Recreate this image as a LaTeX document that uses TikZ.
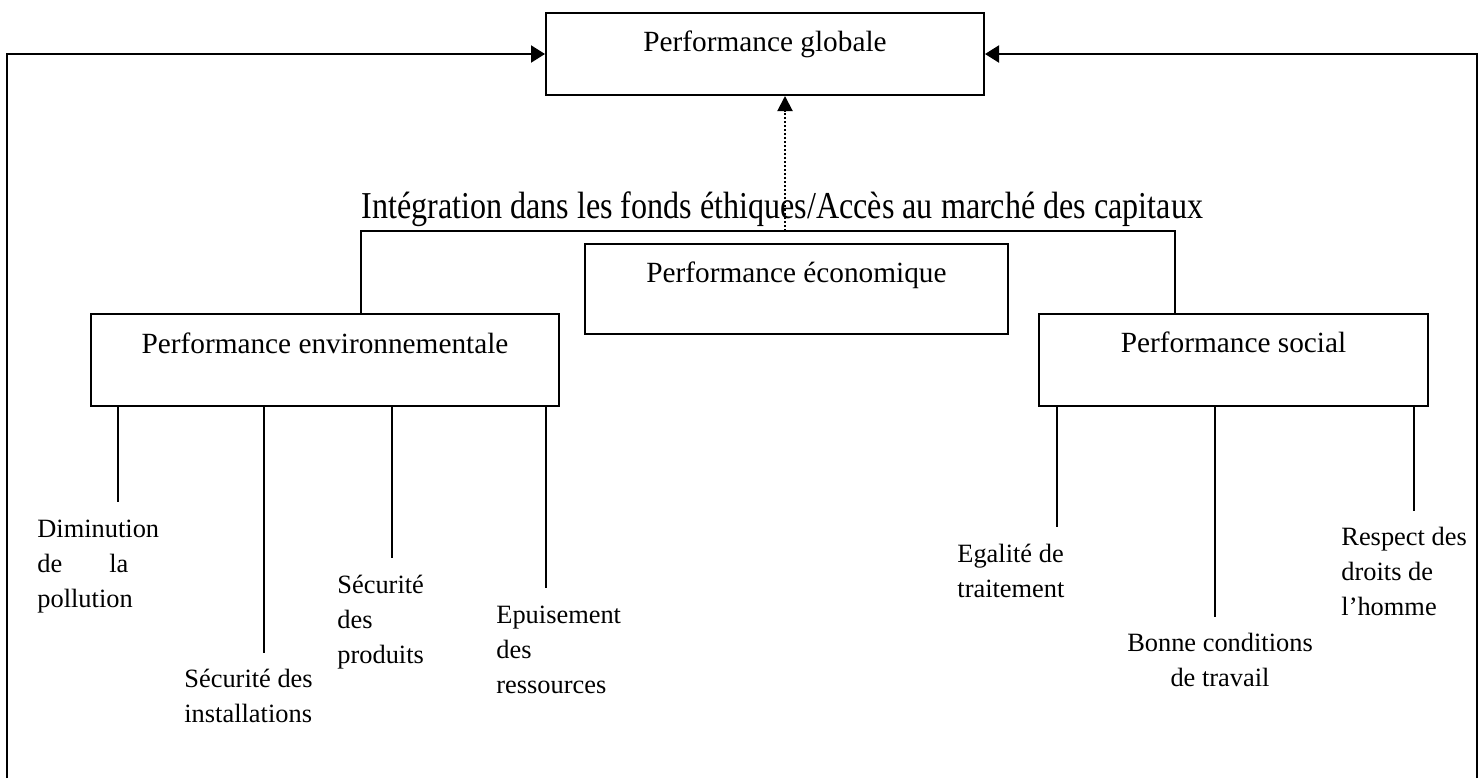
\documentclass[tikz,border=0pt]{standalone}
\usepackage{fontspec}
\usepackage{graphicx}
\setmainfont{Liberation Serif}
\usetikzlibrary{arrows.meta}

% stacked lines, first baseline = node baseline
\newcommand\leafleft[1]{\vtop{\baselineskip=17.5pt\lineskiplimit=-20pt\halign{##\hfil\cr#1\crcr}}}
\newcommand\leafmid[1]{\vtop{\baselineskip=17.5pt\lineskiplimit=-20pt\halign{\hfil##\hfil\cr#1\crcr}}}

\begin{document}
\begin{tikzpicture}[x=0.5pt,y=-0.5pt,
  pbox/.style={draw, line width=1pt, inner sep=0pt, anchor=north west,
    font=\fontsize{14.65pt}{17pt}\selectfont},
  leaf/.style={inner sep=0pt, anchor=base west,
    font=\fontsize{13.2pt}{17.5pt}\selectfont},
  link/.style={line width=1pt},
  feed/.style={line width=1pt, -{Triangle[length=7pt,width=8.5pt]}},
  dotarrow/.style={line width=1pt, dash pattern=on 1pt off 1pt,
    -{Triangle[length=7.5pt,width=7.5pt]}}]

\useasboundingbox (0,0) rectangle (1483,778);

% the four performance boxes
\node[pbox, minimum width=219pt, text height=19pt, text depth=22pt]
  (glob) at (545,12) {Performance globale};
\node[pbox, minimum width=211.5pt, text height=19pt, text depth=26pt]
  (econ) at (584,243) {Performance économique};
\node[pbox, minimum width=234pt, text height=19.5pt, text depth=26.5pt]
  (env) at (90,313) {Performance environnementale};
\node[pbox, minimum width=194.5pt, text height=19pt, text depth=27pt]
  (soc) at (1038,313) {Performance social};

% heading over the bracket (narrowed type)
\node[inner sep=0pt, anchor=base west, font=\fontsize{19pt}{22pt}\selectfont]
  (integ) at (361,218)
  {\scalebox{0.845}[1]{Intégration dans les fonds éthiques/Accès au marché des capitaux}};

% outer feedback loop
\coordinate (lb) at (7,778);
\coordinate (rb) at (1477,778);
\draw[feed] (lb) |- (glob.west);
\draw[feed] (rb) |- (glob.east);

% bracket joining environmental and social boxes
\coordinate (bl) at (361,231);
\coordinate (br) at (1175,231);
\draw[link] (bl |- env.north) -- (bl) -- (br) -- (br |- soc.north);

% dotted arrow up to the global box
\coordinate (dotfoot) at (785,231);
\draw[dotarrow] (dotfoot) -- (dotfoot |- glob.south);

% stems under the environmental box
\coordinate (e1) at (118,502);
\coordinate (e2) at (264,653);
\coordinate (e3) at (392,558);
\coordinate (e4) at (546,588);
\foreach \c in {e1,e2,e3,e4} \draw[link] (\c |- env.south) -- (\c);

% stems under the social box
\coordinate (s1) at (1057,527);
\coordinate (s2) at (1215,617);
\coordinate (s3) at (1414,511);
\foreach \c in {s1,s2,s3} \draw[link] (\c |- soc.south) -- (\c);

% leaf labels
\node[leaf] (dim) at (37,537)
  {\leafleft{Diminution\cr \hbox to 45.5pt{de\hfill la}\cr pollution}};
\node[leaf] (inst) at (184,687) {\leafleft{Sécurité des\cr installations}};
\node[leaf] (prod) at (337,593) {\leafleft{Sécurité\cr des\cr produits}};
\node[leaf] (epu) at (496,623) {\leafleft{Epuisement\cr des\cr ressources}};
\node[leaf] (ega) at (957,562) {\leafleft{Egalité de\cr traitement}};
\node[leaf, anchor=base] (bon) at (1220,651) {\leafmid{Bonne conditions\cr de travail}};
\node[leaf] (resp) at (1341,545) {\leafleft{Respect des\cr droits de\cr l’homme}};

\end{tikzpicture}
\end{document}
